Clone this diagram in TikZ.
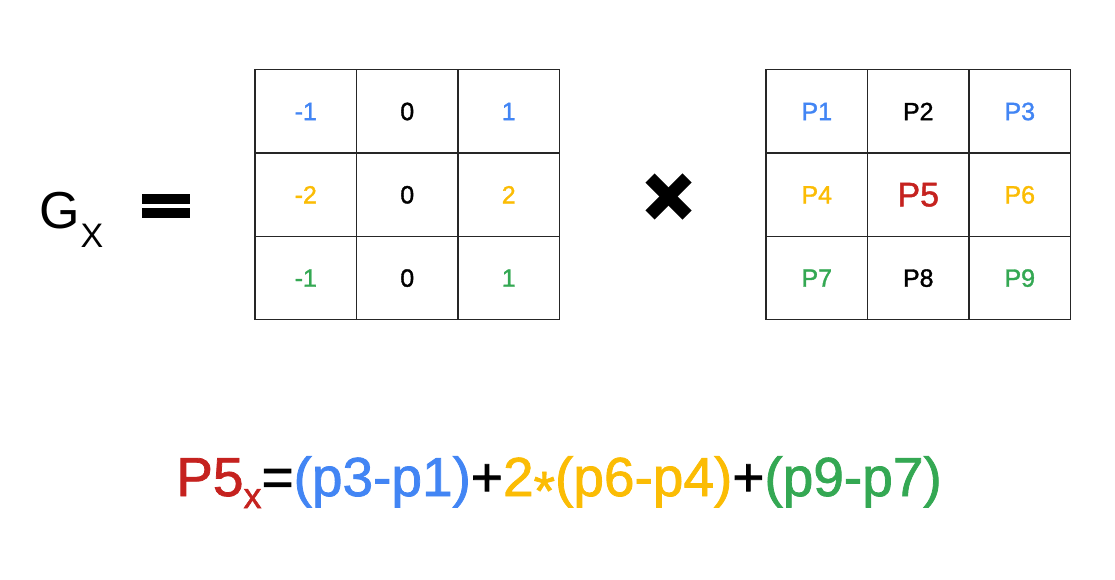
\documentclass[tikz,border=0pt]{standalone}
\usepackage{fontspec}
\setmainfont{Liberation Sans}
\newfontfamily\medfont[FakeBold=1.4]{Liberation Sans}
\usepackage{xcolor}
\definecolor{gblue}{HTML}{4285F4}
\definecolor{gyellow}{HTML}{FBBC04}
\definecolor{ggreen}{HTML}{34A853}
\definecolor{gred}{HTML}{C5221F}

\begin{document}
\begin{tikzpicture}[x=1pt,y=-1pt,
    cell/.style={draw=black!85,line width=1.3pt,minimum width=101.5pt,minimum height=83.3pt,inner sep=0pt},
    big/.style={font=\medfont\fontsize{#1}{#1}\selectfont}]
  \useasboundingbox (0,0) rectangle (1115,580);
  % G_X =
  \node[font=\fontsize{52}{52}\selectfont,anchor=base,inner sep=0pt] (g) at (60,228) {G};
  \node[font=\fontsize{34}{34}\selectfont,anchor=base west,inner sep=0pt] (gx) at (g.base east) [yshift=-19pt] {X};
  \fill (142,194) rectangle (190,204);
  \fill (142,208) rectangle (190,218);
  % kernel
  \foreach \v/\c [count=\i from 0] in {-1/gblue,0/black,1/gblue,-2/gyellow,0/black,2/gyellow,-1/ggreen,0/black,1/ggreen}
    \node[cell,big=25,text=\c] (k\i) at ({305.75+101.5*mod(\i,3)},{111.5+83.3*int(\i/3)}) {\v};
  % times
  \draw[line width=13pt] (650,178) -- (687,215);
  \draw[line width=13pt] (650,215) -- (687,178);
  % pixels
  \foreach \c/\s [count=\i] in {gblue/25,black/25,gblue/25,gyellow/25,gred/34,gyellow/25,ggreen/25,black/25,ggreen/25}
    \node[cell,big=\s,text=\c] (p\i) at ({816.75+101.5*mod(\i-1,3)},{111.5+83.3*int((\i-1)/3)}) {P\i};
  % formula
  \node[big=55,anchor=base] (f) at (559,496)
    {\textcolor{gred}{P5\raisebox{-0.22em}{\fontsize{36}{36}\selectfont x}}=\textcolor{gblue}{(p3-p1)}+\textcolor{gyellow}{2\raisebox{-0.25em}{*}(p6-p4)}+\textcolor{ggreen}{(p9-p7)}};
\end{tikzpicture}
\end{document}
